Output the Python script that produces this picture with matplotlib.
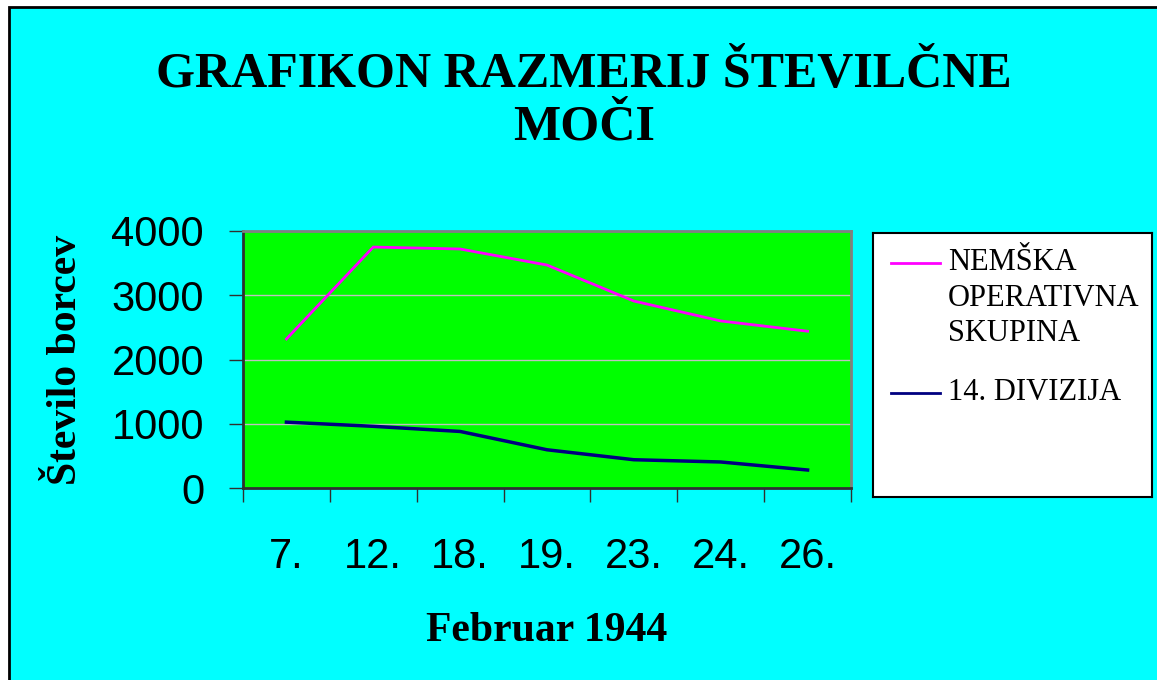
import matplotlib.pyplot as plt
from matplotlib.patches import Rectangle

# data
days = ['7.', '12.', '18.', '19.', '23.', '24.', '26.']
nemska = [2320, 3750, 3720, 3470, 2910, 2600, 2440]
divizija = [1025, 960, 880, 595, 440, 405, 280]
series_names = ['NEMŠKA\nOPERATIVNA\nSKUPINA', '14. DIVIZIJA']
yticks = [0, 1000, 2000, 3000, 4000]

W, H = 1157, 680
serif = ['Liberation Serif', 'DejaVu Serif']
sans = ['Liberation Sans', 'DejaVu Sans']


def fx(x):
    return x / W


def fy(y):
    return 1 - y / H


fig = plt.figure(figsize=(W / 100, H / 100), dpi=100, facecolor='white')
fig.patches.append(Rectangle((fx(9), -0.01), 1.02, fy(7) + 0.01, transform=fig.transFigure,
                             facecolor='#00ffff', edgecolor='black', linewidth=2, zorder=-10))

ax = fig.add_axes([fx(243), fy(488), fx(851) - fx(243), fy(231) - fy(488)])
ax.set_facecolor('#00ff00')
x = list(range(len(days)))
ax.plot(x, nemska, color='#ff00ff', linewidth=2, solid_joinstyle='miter')
ax.plot(x, divizija, color='#000080', linewidth=2.5, solid_joinstyle='miter')

ax.set_xlim(-0.5, len(days) - 0.5)
ax.set_ylim(0, 4000)
ax.set_yticks(yticks)
ax.set_yticklabels([str(v) for v in yticks], fontsize=30, family=sans)
ax.yaxis.grid(True, color='#c0c0c0', linewidth=1)
ax.set_axisbelow(True)

# ticks at category edges, labels at centres
ax.set_xticks([i - 0.5 for i in range(len(days) + 1)])
ax.set_xticklabels([])
ax.set_xticks(x, minor=True)
ax.set_xticklabels(days, minor=True, fontsize=30, family=sans)
ax.tick_params(axis='x', which='major', length=10, width=1, color='#303030', direction='out')
ax.tick_params(axis='x', which='minor', length=0, pad=35)
ax.tick_params(axis='y', length=10, width=1, color='#303030', direction='out', pad=18)

for s in ['left', 'bottom']:
    ax.spines[s].set_color('#303030')
    ax.spines[s].set_linewidth(2)
for s in ['top', 'right']:
    ax.spines[s].set_color('#808080')
    ax.spines[s].set_linewidth(2)

fig.text(fx(584), fy(52), 'GRAFIKON RAZMERIJ ŠTEVILČNE\nMOČI', ha='center', va='top',
         fontsize=36, fontweight='bold', family=serif, linespacing=1.18)
fig.text(fx(66), fy(360), 'Število borcev', rotation=90, ha='center', va='center',
         fontsize=30, fontweight='bold', family=serif)
fig.text(fx(547), fy(641), 'Februar 1944', ha='center', va='baseline',
         fontsize=30, fontweight='bold', family=serif)

# legend box
lx0, ly0, lx1, ly1 = 873, 233, 1152, 497
lax = fig.add_axes([fx(lx0), fy(ly1), fx(lx1) - fx(lx0), fy(ly0) - fy(ly1)])
lax.set_xlim(lx0, lx1)
lax.set_ylim(ly1, ly0)
lax.set_facecolor('white')
lax.set_xticks([])
lax.set_yticks([])
for s in lax.spines.values():
    s.set_color('black')
    s.set_linewidth(1.5)
lax.plot([891, 940], [263, 263], color='#ff00ff', linewidth=2)
lax.plot([891, 940], [393, 393], color='#000080', linewidth=2)
lax.text(948, 248, series_names[0], ha='left', va='top', fontsize=22, family=serif, linespacing=1.3)
lax.text(948, 378, series_names[1], ha='left', va='top', fontsize=22, family=serif)

fig.savefig('out.png', dpi=100, facecolor=fig.get_facecolor())
